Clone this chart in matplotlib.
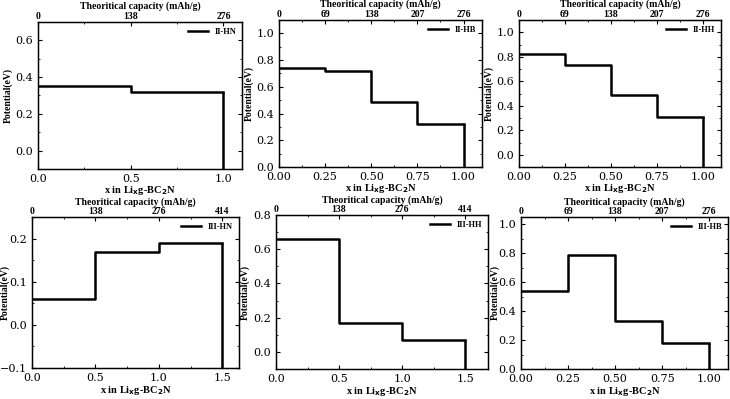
import matplotlib.pyplot as plt
from matplotlib.ticker import AutoMinorLocator, MultipleLocator
import numpy as np

# step data: x edges (Li content) and plateau potentials (eV)
labels = ['II-HN', 'II-HB', 'II-HH', 'III-HN', 'III-HH', 'III-HB']
edges = [
    [0, 0.5, 1.0],
    [0, 0.25, 0.5, 0.75, 1.0],
    [0, 0.25, 0.5, 0.75, 1.0],
    [0, 0.5, 1.0, 1.5],
    [0, 0.5, 1.0, 1.5],
    [0, 0.25, 0.5, 0.75, 1.0],
]
potentials = [
    [0.35, 0.32],
    [0.74, 0.72, 0.49, 0.32],
    [0.82, 0.73, 0.49, 0.31],
    [0.06, 0.17, 0.19],
    [0.66, 0.17, 0.07],
    [0.54, 0.79, 0.33, 0.18],
]
top_ticks = [
    ['0', '138', '276'],
    ['0', '69', '138', '207', '276'],
    ['0', '69', '138', '207', '276'],
    ['0', '138', '276', '414'],
    ['0', '138', '276', '414'],
    ['0', '69', '138', '207', '276'],
]

# layout (pixel boxes: left, right, top, bottom) and axis settings
W, H = 730, 399
boxes = [(38, 242, 22, 169), (279, 482, 20, 167), (519, 721, 20, 167),
         (32, 239, 217, 368), (276, 488, 215, 369), (521, 728, 217, 369)]
ylab_x = [13, 254, 494, 10, 250, 500]  # pixel x of the y-label anchor
xlims = [(0, 1.1), (0, 1.1), (0, 1.1), (0, 1.63), (0, 1.68), (0, 1.1)]
ylims = [(-0.1, 0.7), (0, 1.1), (-0.1, 1.1), (-0.1, 0.25), (-0.1, 0.8), (0, 1.05)]
xmaj = [0.5, 0.25, 0.25, 0.5, 0.5, 0.25]
ymaj = [0.2, 0.2, 0.2, 0.1, 0.2, 0.2]
xfmt = ['{:.1f}', '{:.2f}', '{:.2f}', '{:.1f}', '{:.1f}', '{:.2f}']

lab_font = dict(family='Liberation Serif', weight='bold')
tick_font = 'DejaVu Serif'

fig = plt.figure(figsize=(W / 100, H / 100), dpi=100)

for i in range(6):
    l, r, t, b = boxes[i]
    ax = fig.add_axes([l / W, 1 - b / H, (r - l) / W, (b - t) / H])
    xe = edges[i]
    yv = potentials[i]
    ymin = ylims[i][0]
    ax.step(xe, yv + [yv[-1]], where='post', color='black', lw=1.8, label=labels[i])
    ax.vlines(xe[-1], ymin, yv[-1], color='black', lw=1.8)

    xt = np.arange(0, xlims[i][1] + 1e-9, xmaj[i])
    ax.set_xticks(xt)
    ax.set_xticklabels([xfmt[i].format(v) for v in xt], family=tick_font, fontsize=8)
    ax.yaxis.set_major_locator(MultipleLocator(ymaj[i]))
    ax.xaxis.set_minor_locator(AutoMinorLocator(2))
    ax.yaxis.set_minor_locator(AutoMinorLocator(2))
    ax.set_xlim(*xlims[i])
    ax.set_ylim(*ylims[i])
    ax.tick_params(which='both', direction='in', right=True)
    ax.tick_params(which='major', length=3, width=0.8)
    ax.tick_params(which='minor', length=1.5, width=0.6)
    for lab in ax.get_yticklabels():
        lab.set_family(tick_font)
        lab.set_fontsize(8)
    for s in ax.spines.values():
        s.set_linewidth(1.0)

    ax.set_xlabel('x in Li$_\\mathbf{x}$g-BC$_\\mathbf{2}$N', fontsize=7.5,
                  labelpad=0 if i < 3 else 1, **lab_font)
    ax.set_ylabel('Potential(eV)', fontsize=7, **lab_font)
    ax.yaxis.set_label_coords((ylab_x[i] - l) / (r - l), 0.5)
    ax.legend(loc='upper right', frameon=False, handlelength=2.4, borderaxespad=0.3,
              prop=dict(family='Liberation Serif', weight='bold', size=6))

    # top axis: theoretical capacity
    top = ax.twiny()
    top.set_xlim(ax.get_xlim())
    top.set_xticks(xe)
    top.set_xticklabels(top_ticks[i], fontsize=7, **lab_font)
    top.xaxis.set_minor_locator(AutoMinorLocator(2))
    top.tick_params(which='both', direction='in', pad=1)
    top.tick_params(which='major', length=3, width=0.8)
    top.tick_params(which='minor', length=1.5, width=0.6)
    top.set_xlabel('Theoritical capacity (mAh/g)', fontsize=7,
                   labelpad=2 if i < 3 else 1, **lab_font)

fig.savefig('out.png', dpi=100)
